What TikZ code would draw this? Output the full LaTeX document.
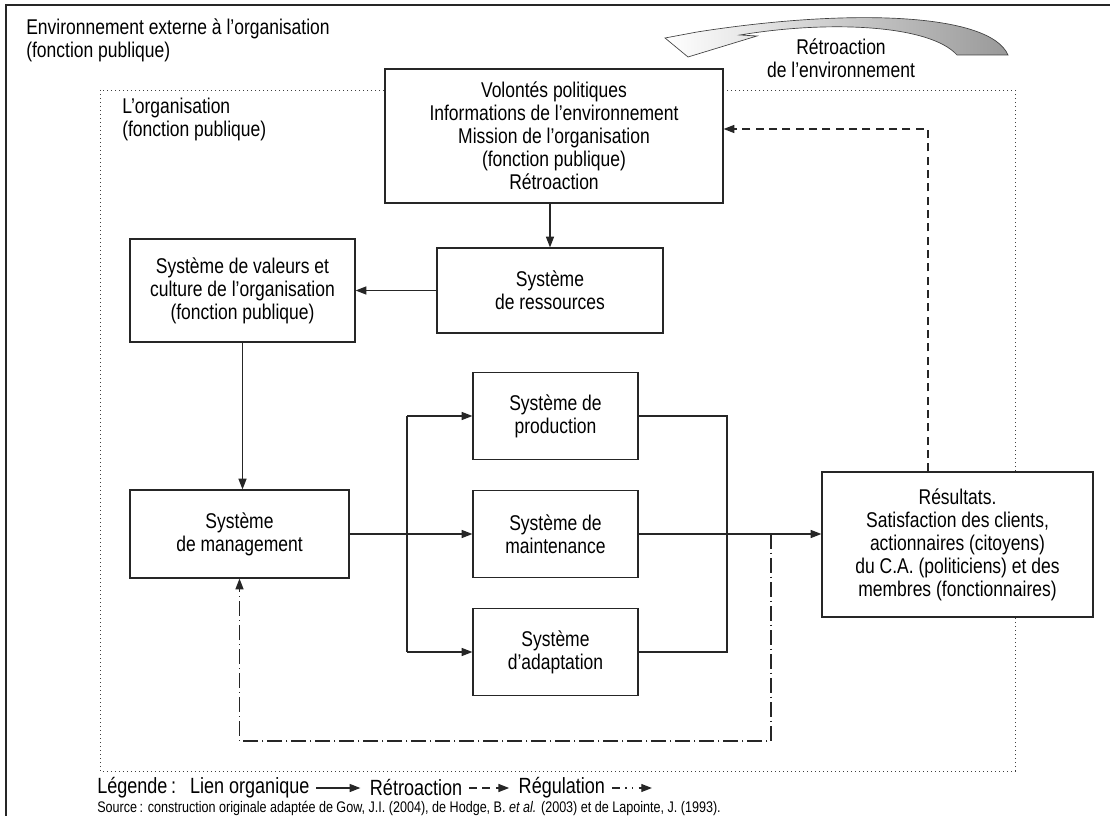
\documentclass[tikz,border=0pt]{standalone}
\usepackage{fontspec}
\setmainfont{Liberation Sans}[FakeStretch=0.82]
\usetikzlibrary{arrows.meta}
\begin{document}
\begin{tikzpicture}[x=0.75pt,y=-0.75pt,
  txt/.style={font=\fontsize{16}{17.25}\selectfont},
  box/.style={txt, draw=black!85, line width=0.9pt, fill=white, align=center, inner sep=0pt},
  lbl/.style={txt, align=left, inner sep=0pt, anchor=west},
  plain/.style={draw=black!85, line width=0.9pt},
  lien/.style={plain, -{Triangle[length=8pt,width=6pt]}},
  retro/.style={lien, dash pattern=on 6pt off 4pt},
  regul/.style={lien, dash pattern=on 11pt off 3pt on 1pt off 3pt},
  org/.style={draw=black!75, line width=0.7pt, dash pattern=on 0.7pt off 2.3pt},
  legtxt/.style={font=\fontsize{16.5}{17}\selectfont, inner sep=0pt, anchor=west}
]
\useasboundingbox (0,0) rectangle (1110,816);
% outer frame (left and top)
\draw[line width=1.6pt, black!85] (6,816) -- (6,5) -- (1110,5);
\node[lbl] (env) at (26,40.5) {Environnement externe à l’organisation\\(fonction publique)};
% organisation dotted frame
\draw[org] (100,90) rectangle (1015,771);
\node[lbl] (orgl) at (122,119.5) {L’organisation\\(fonction publique)};
% swoosh arrow
\draw[black!75, line width=0.5pt, left color=white, right color=black!40]
  (665,38) -- (697,32) .. controls (850,8) and (990,13) .. (1008,55)
  -- (957,55) .. controls (930,25) and (830,20) .. (740,35)
  -- (757,36) -- (688,57) -- cycle;
\node[txt, align=center, inner sep=0pt] (retenv) at (841,58) {Rétroaction\\de l’environnement};
% boxes
\node[box, minimum width=253.5pt, minimum height=100.5pt] (top) at (554,136)
  {Volontés politiques\\Informations de l’environnement\\Mission de l’organisation\\(fonction publique)\\Rétroaction};
\node[box, minimum width=169.5pt, minimum height=63.75pt] (res) at (550,290.5) {Système\\de ressources};
\node[box, minimum width=168.75pt, minimum height=77.25pt] (val) at (242.5,290.5)
  {Système de valeurs et\\culture de l’organisation\\(fonction publique)};
\node[box, minimum width=164.25pt, minimum height=66pt] (mgmt) at (239.5,534) {Système\\de management};
\node[box, minimum width=123.75pt, minimum height=65.25pt] (prod) at (555.5,416) {Système de\\production};
\node[box, minimum width=123.75pt, minimum height=65.25pt] (maint) at (555.5,534) {Système de\\maintenance};
\node[box, minimum width=123.75pt, minimum height=65.25pt] (adapt) at (555.5,652) {Système\\d’adaptation};
\node[box, minimum width=203.25pt, minimum height=108.75pt] (rslt) at (957.5,544.5)
  {Résultats.\\Satisfaction des clients,\\actionnaires (citoyens)\\du C.A. (politiciens) et des\\membres (fonctionnaires)};
% organic links
\draw[lien] (res.north |- top.south) -- (res.north);
\draw[lien] (res.west) -- (val.east);
\draw[lien] (val.south) -- (val.south |- mgmt.north);
\draw[lien] (mgmt.east) -- (maint.west);
\coordinate (bt) at (407,416);
\coordinate (bb) at (407,652);
\draw[plain] (bt) -- (bb);
\draw[lien] (bt) -- (prod.west);
\draw[lien] (bb) -- (adapt.west);
\coordinate (ct) at (727,416);
\coordinate (cb) at (727,652);
\draw[plain] (prod.east) -- (ct) -- (cb) -- (adapt.east);
\draw[lien] (maint.east) -- (rslt.west |- maint.east);
% feedback (dashed)
\coordinate (dk) at (928,129);
\draw[retro] (dk |- rslt.north) -- (dk) -- (dk -| top.east);
% regulation (dash-dot)
\coordinate (r1) at (771,534);
\coordinate (r2) at (771,741);
\draw[regul] (r1) -- (r2) -- (r2 -| mgmt.south) -- (mgmt.south);
% legend
\node[legtxt] (lg) at (97,788) {Légende\,:};
\node[legtxt] (l1) at ([xshift=10pt]lg.east) {Lien organique};
\coordinate (a1s) at ([xshift=5pt]l1.east);
\coordinate (a1e) at ([xshift=38pt]l1.east);
\draw[lien] (a1s) -- (a1e);
\node[legtxt] (l2) at ([xshift=7pt]a1e) {Rétroaction};
\coordinate (a2s) at ([xshift=5pt]l2.east);
\coordinate (a2e) at ([xshift=35pt]l2.east);
\draw[lien, dash pattern=on 6pt off 4pt] (a2s) -- (a2e);
\node[legtxt] (l3) at ([xshift=7pt]a2e) {Régulation};
\coordinate (a3s) at ([xshift=5pt]l3.east);
\coordinate (a3e) at ([xshift=35pt]l3.east);
\draw[lien, dash pattern=on 6pt off 4pt on 1pt off 4pt on 1pt off 4pt] (a3s) -- (a3e);
\node[font=\fontsize{11.5}{12}\selectfont, inner sep=0pt, anchor=west] (src) at (97,808)
  {Source\,: construction originale adaptée de Gow, J.I. (2004), de Hodge, B. \textit{et al.} (2003) et de Lapointe, J. (1993).};
\end{tikzpicture}
\end{document}
